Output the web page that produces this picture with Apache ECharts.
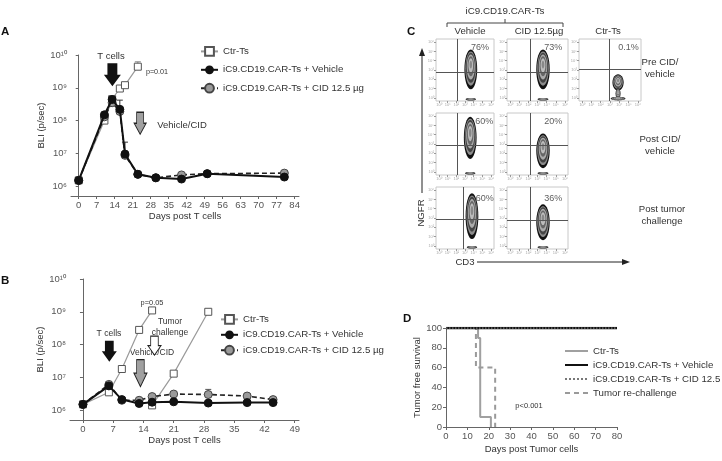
<!DOCTYPE html>
<html>
<head>
<meta charset="utf-8">
<script src="https://cdn.jsdelivr.net/npm/echarts@6/dist/echarts.min.js"></script>
<style>
  html, body { margin: 0; padding: 0; background: #fff; }
  #main { width: 722px; height: 461px; }
</style>
</head>
<body>
<div id="main"></div>
<script>
// ---- panel A : BLI after T cells ----
var ctrDaysA = [0, 10, 13, 16, 18, 23];
var ctrA = [1.5e6, 1.0e8, 4.5e8, 9.5e8, 1.2e9, 4.4e9];
var daysA = [0, 10, 13, 16, 18, 23, 30, 40, 50, 80];
var vehA = [1.5e6, 1.5e8, 4.4e8, 2.2e8, 9.5e6, 2.3e6, 1.8e6, 1.65e6, 2.4e6, 1.9e6];
var cidA = [1.5e6, 1.3e8, 3.5e8, 1.9e8, 8.7e6, 2.3e6, 1.8e6, 2.2e6, 2.4e6, 2.5e6];
var errA = [[23, 4.4e9, 6.2e9, 'ctr'], [16, 2.2e8, 4.2e8, 'veh'], [18, 9.5e6, 2.2e7, 'veh']];

// ---- panel B : BLI with tumor re-challenge ----
var ctrDaysB1 = [0, 6, 9, 13, 16];
var ctrB1 = [1.5e6, 3.5e6, 1.8e7, 2.8e8, 1.1e9];
var ctrDaysB2 = [16, 21, 29];
var ctrB2 = [1.4e6, 1.3e7, 1.0e9];
var daysB = [0, 6, 9, 13, 16, 21, 29, 38, 44];
var vehB = [1.5e6, 5.5e6, 2.1e6, 1.6e6, 1.75e6, 1.8e6, 1.65e6, 1.7e6, 1.7e6];
var cidB = [1.5e6, 6.1e6, 2.0e6, 2.0e6, 2.6e6, 3.1e6, 3.0e6, 2.7e6, 2.1e6];
var errB = [[6, 5.5e6, 7.5e6, 'veh'], [29, 3.0e6, 4.3e6, 'cid'], [29, 1.0e9, 1.2e9, 'ctr']];

var bliTicks = [6, 7, 8, 9, 10];
var bliTickText = ['10\u2076', '10\u2077', '10\u2078', '10\u2079', '10\u00b9\u2070'];
var daysTicksA = [0, 7, 14, 21, 28, 35, 42, 49, 56, 63, 70, 77, 84];
var daysTicksB = [0, 7, 14, 21, 28, 35, 42, 49];

// ---- panel D : tumor free survival (step points) ----
var survCtr = [[0, 100], [15, 90], [16, 10], [21, 0]];
var survRe = [[0, 100], [14, 60], [23, 0]];
var survVeh = [[0, 100], [80, 100]];
var survCid = [[0, 100], [80, 100]];

// ---- panel C : flow plots (NGFR vs CD3) ----
var flowPct = ['76%', '73%', '0.1%', '60%', '20%', '60%', '36%'];
var flowGateX = [37, 38, 49, 37, 38, 47, 38];
var flowGateY = [47, 47, 51, 47.5, 47.5, 48, 46];
// populations: [cd3 centre, ngfr centre, half spread cd3, half spread ngfr]
var flowPops = [
  [[60, 51, 11, 32], [60, 3, 9, 2]],
  [[59, 51, 11, 32], [59, 3, 9, 2]],
  [[63, 30, 9, 13], [63, 12, 4, 9], [63, 4, 12, 3]],
  [[59, 60, 11, 34], [59, 3, 9, 2]],
  [[59, 39, 11, 28], [59, 3, 9, 2]],
  [[62, 53, 11, 37], [62, 3, 9, 2]],
  [[59, 43, 11, 29], [59, 3, 9, 2]]
];

var FONT = '"Liberation Sans", Arial, sans-serif';
var lg = function (v) { return Math.log10(v); };
var pairs = function (xs, ys) { return xs.map(function (x, i) { return [x, lg(ys[i])]; }); };

var nameCtr = 'Ctr-Ts';
var nameVeh = 'iC9.CD19.CAR-Ts + Vehicle';
var nameCid = 'iC9.CD19.CAR-Ts + CID 12.5 \u00b5g';

var arrowPath = 'path://M2.5,0 L9.5,0 L9.5,10 L12,10 L6,20 L0,10 L2.5,10 Z';

var flowBoxes = [
  [436, 39, 58, 62], [507, 39, 61, 62], [579, 39, 62, 62],
  [436, 113, 58, 62], [507, 113, 61, 62],
  [436, 187, 58, 62], [507, 187, 61, 62]
];
var flowLabelPos = [[76, 86], [76, 86], [80, 86], [83, 86], [76, 86], [84, 82], [76, 82]];

var chart = echarts.init(document.getElementById('main'));

var grids = [
  { left: 71, top: 55, width: 228, height: 141 },
  { left: 70, top: 279, width: 229, height: 141 },
  { left: 446, top: 328, width: 171, height: 99 }
];
flowBoxes.forEach(function (b) {
  grids.push({ left: b[0], top: b[1], width: b[2], height: b[3], show: true, borderColor: '#c8c8c8', borderWidth: 1 });
});

var axisFont = { fontFamily: FONT, fontSize: 9.5, color: '#333' };
var tickFont = { fontFamily: FONT, fontSize: 9.5, color: '#555' };

function bliY(gi) {
  return {
    gridIndex: gi, type: 'value', min: 5.7, max: 10,
    name: 'BLI (p/sec)', nameLocation: 'middle', nameGap: 19, nameTextStyle: axisFont,
    axisLine: { show: true, lineStyle: { color: '#666' } },
    axisTick: { show: true, length: 3, customValues: bliTicks, lineStyle: { color: '#666' } },
    axisLabel: Object.assign({ customValues: bliTicks, margin: 4,
      formatter: function (v) { return bliTickText[bliTicks.indexOf(Math.round(v))]; } }, tickFont),
    splitLine: { show: false }
  };
}
function daysX(gi, max, ticks) {
  return {
    gridIndex: gi, type: 'value', min: -3, max: max,
    name: 'Days post T cells', nameLocation: 'middle', nameGap: 15, nameTextStyle: axisFont,
    axisLine: { show: true, onZero: false, lineStyle: { color: '#666' } },
    axisTick: { show: true, length: 3, customValues: ticks, lineStyle: { color: '#666' } },
    axisLabel: Object.assign({ customValues: ticks, margin: 4 }, tickFont),
    splitLine: { show: false }
  };
}

var xAxes = [daysX(0, 85.7, daysTicksA), daysX(1, 50, daysTicksB), {
  gridIndex: 2, type: 'value', min: 0, max: 80, interval: 10,
  name: 'Days post Tumor cells', nameLocation: 'middle', nameGap: 17, nameTextStyle: axisFont,
  axisLine: { show: true, onZero: false, lineStyle: { color: '#666' } },
  axisTick: { length: 3, lineStyle: { color: '#666' } },
  axisLabel: Object.assign({ margin: 4 }, tickFont),
  splitLine: { show: false }
}];
var yAxes = [bliY(0), bliY(1), {
  gridIndex: 2, type: 'value', min: 0, max: 100, interval: 20,
  name: 'Tumor free survival', nameLocation: 'middle', nameGap: 21, nameTextStyle: axisFont,
  axisLine: { show: true, lineStyle: { color: '#666' } },
  axisTick: { length: 3, lineStyle: { color: '#666' } },
  axisLabel: Object.assign({ margin: 4 }, tickFont),
  splitLine: { show: false }
}];

var flowTicks = [5, 20, 35, 50, 65, 80, 95];
var supDigits = ['\u2070', '\u00b9', '\u00b2', '\u00b3', '\u2074', '\u2075', '\u2076'];
flowBoxes.forEach(function (b, i) {
  var gi = i + 3;
  var tickCfg = { show: true, length: 2, customValues: flowTicks, lineStyle: { color: '#999' } };
  var labCfg = { show: true, customValues: flowTicks, fontSize: 4, color: '#aaa', margin: 2,
    formatter: function (v) { return '10' + supDigits[flowTicks.indexOf(v)]; } };
  xAxes.push({ gridIndex: gi, type: 'value', min: 0, max: 100, axisLine: { show: false },
    axisTick: tickCfg, axisLabel: labCfg, splitLine: { show: false } });
  yAxes.push({ gridIndex: gi, type: 'value', min: 0, max: 100, axisLine: { show: false },
    axisTick: tickCfg, axisLabel: labCfg, splitLine: { show: false } });
});

var ctrStyle = {
  type: 'line', name: nameCtr, symbol: 'rect', symbolSize: 7,
  lineStyle: { color: '#9a9a9a', width: 1.2 },
  itemStyle: { color: '#fff', borderColor: '#555', borderWidth: 1 }, z: 2
};
var vehStyle = {
  type: 'line', name: nameVeh, symbol: 'circle', symbolSize: 8,
  lineStyle: { color: '#111', width: 2 },
  itemStyle: { color: '#111', borderColor: '#111' }, z: 4
};
var cidStyle = {
  type: 'line', name: nameCid, symbol: 'circle', symbolSize: 8,
  lineStyle: { color: '#222', width: 1.6, type: [5, 3] },
  itemStyle: { color: '#9a9a9a', borderColor: '#444', borderWidth: 1 }, z: 3
};
function withData(base, extra) { return Object.assign({}, base, extra); }

var errColor = { ctr: '#888', veh: '#333', cid: '#555' };
function errSeries(gi, rows) {
  return {
    type: 'custom', xAxisIndex: gi, yAxisIndex: gi, z: 1, silent: true,
    data: rows.map(function (r) { return [r[0], lg(r[1]), lg(r[2])]; }),
    renderItem: function (params, api) {
      var p0 = api.coord([api.value(0), api.value(1)]);
      var p1 = api.coord([api.value(0), api.value(2)]);
      var col = errColor[rows[params.dataIndex][3]];
      return { type: 'group', children: [
        { type: 'line', shape: { x1: p0[0], y1: p0[1], x2: p1[0], y2: p1[1] }, style: { stroke: col, lineWidth: 1 } },
        { type: 'line', shape: { x1: p1[0] - 3, y1: p1[1], x2: p1[0] + 3, y2: p1[1] }, style: { stroke: col, lineWidth: 1 } }
      ] };
    }
  };
}
function arrowMark(items) {
  return {
    silent: true, label: { show: false }, animation: false,
    data: items.map(function (a) {
      return { coord: [a[0], a[1]], symbol: arrowPath, symbolSize: [a[2], a[3]],
        itemStyle: { color: a[4], borderColor: '#222', borderWidth: a[4] === '#111' ? 0 : 1 } };
    })
  };
}

var series = [
  errSeries(0, errA),
  withData(ctrStyle, { xAxisIndex: 0, yAxisIndex: 0, data: pairs(ctrDaysA, ctrA) }),
  withData(cidStyle, { xAxisIndex: 0, yAxisIndex: 0, data: pairs(daysA, cidA) }),
  withData(vehStyle, { xAxisIndex: 0, yAxisIndex: 0, data: pairs(daysA, vehA),
    markPoint: arrowMark([[13.1, 9.40, 17, 23, '#111'], [23.9, 7.92, 12, 22, '#a0a0a0']]) }),
  errSeries(1, errB),
  withData(ctrStyle, { xAxisIndex: 1, yAxisIndex: 1, data: pairs(ctrDaysB1, ctrB1) }),
  withData(ctrStyle, { xAxisIndex: 1, yAxisIndex: 1, data: pairs(ctrDaysB2, ctrB2) }),
  withData(cidStyle, { xAxisIndex: 1, yAxisIndex: 1, data: pairs(daysB, cidB) }),
  withData(vehStyle, { xAxisIndex: 1, yAxisIndex: 1, data: pairs(daysB, vehB),
    markPoint: arrowMark([[6.1, 7.8, 15, 21, '#111'], [16.55, 7.97, 13, 19, '#fff'], [13.3, 7.13, 13, 27, '#a0a0a0']]) }),
  // panel D
  { type: 'line', name: 'Ctr-Ts ', xAxisIndex: 2, yAxisIndex: 2, step: 'end', symbol: 'none',
    lineStyle: { color: '#a0a0a0', width: 2 }, itemStyle: { color: '#a0a0a0' }, data: survCtr, z: 2 },
  { type: 'line', name: 'Tumor re-challenge', xAxisIndex: 2, yAxisIndex: 2, step: 'end', symbol: 'none',
    lineStyle: { color: '#9a9a9a', width: 2, type: [5, 4] }, itemStyle: { color: '#9a9a9a' }, data: survRe, z: 2 },
  { type: 'line', name: 'iC9.CD19.CAR-Ts + Vehicle ', xAxisIndex: 2, yAxisIndex: 2, step: 'end', symbol: 'none',
    lineStyle: { color: '#111', width: 2.5 }, itemStyle: { color: '#111' }, data: survVeh, z: 3 },
  { type: 'line', name: 'iC9.CD19.CAR-Ts + CID 12.5', xAxisIndex: 2, yAxisIndex: 2, step: 'end', symbol: 'none',
    lineStyle: { color: '#777', width: 1.5, type: 'dotted' }, itemStyle: { color: '#777' }, data: survCid, z: 4 }
];

var shades = ['#111', '#8c8c8c', '#444', '#ababab', '#666', '#bdbdbd', '#888'];
var scales = [1, 0.86, 0.76, 0.63, 0.5, 0.36, 0.2];
flowPops.forEach(function (pops, i) {
  var gi = i + 3;
  series.push({
    type: 'custom', xAxisIndex: gi, yAxisIndex: gi, silent: true, clip: true,
    data: pops,
    renderItem: function (params, api) {
      var c = api.coord([api.value(0), api.value(1)]);
      var s = api.size([api.value(2), api.value(3)]);
      return { type: 'group', children: shades.map(function (col, k) {
        return { type: 'ellipse', shape: { cx: c[0], cy: c[1] - s[1] * 0.04 * k, rx: s[0] * scales[k], ry: s[1] * scales[k] },
          style: { fill: col } };
      }) };
    },
    markLine: {
      silent: true, symbol: 'none', animation: false, label: { show: false },
      lineStyle: { color: '#555', width: 1, type: 'solid' },
      data: [{ xAxis: flowGateX[i] }, { yAxis: flowGateY[i] }]
    },
    z: 1
  });
  series.push({
    type: 'scatter', xAxisIndex: gi, yAxisIndex: gi, symbolSize: 0, silent: true,
    data: [flowLabelPos[i]],
    label: { show: true, position: 'inside', formatter: flowPct[i], fontFamily: FONT, fontSize: 9, color: '#333' },
    z: 10
  });
});

function txt(x, y, s, size, extra) {
  return Object.assign({ type: 'text', x: x, y: y,
    style: { text: s, fontFamily: FONT, fontSize: size, fill: '#333', align: 'center', verticalAlign: 'middle' } }, extra || {});
}
function panelLabel(x, y, s) {
  return { type: 'text', x: x, y: y, style: { text: s, fontFamily: FONT, fontSize: 11.5, fontWeight: 'bold', fill: '#111', align: 'left', verticalAlign: 'middle' } };
}

var graphics = [
  panelLabel(1, 32, 'A'), panelLabel(1, 281, 'B'), panelLabel(407, 32, 'C'), panelLabel(403, 319, 'D'),
  txt(111, 56, 'T cells', 9.5),
  txt(157, 72, 'p=0.01', 7.2),
  txt(182, 125, 'Vehicle/CID', 9.5),
  txt(152, 303, 'p=0.05', 7.4),
  txt(109, 334, 'T cells', 8.6),
  txt(170, 322, 'Tumor', 8.5),
  txt(170, 333, 'challenge', 8.5),
  txt(152, 353, 'Vehicle/CID', 8.5),
  txt(529, 406, 'p<0.001', 7.5),
  // panel C headers
  txt(505, 11, 'iC9.CD19.CAR-Ts', 9.8),
  { type: 'polyline', shape: { points: [[447, 27], [447, 23], [563, 23], [563, 27]] }, style: { stroke: '#444', lineWidth: 1, fill: null } },
  { type: 'line', shape: { x1: 505, y1: 23, x2: 505, y2: 19 }, style: { stroke: '#444', lineWidth: 1 } },
  txt(470, 31, 'Vehicle', 9.6),
  txt(539, 31, 'CID 12.5\u00b5g', 9.6),
  txt(608, 31, 'Ctr-Ts', 9.6),
  txt(660, 62, 'Pre CID/', 9.6), txt(660, 74, 'vehicle', 9.6),
  txt(660, 139, 'Post CID/', 9.6), txt(660, 151, 'vehicle', 9.6),
  txt(662, 209, 'Post tumor', 9.6), txt(662, 221, 'challenge', 9.6),
  // axes arrows of panel C
  { type: 'line', shape: { x1: 422, y1: 193, x2: 422, y2: 54 }, style: { stroke: '#222', lineWidth: 1 } },
  { type: 'polygon', shape: { points: [[422, 48], [419, 56], [425, 56]] }, style: { fill: '#222' } },
  txt(421, 213, 'NGFR', 9.6, { rotation: Math.PI / 2 }),
  txt(465, 262, 'CD3', 9.6),
  { type: 'line', shape: { x1: 477, y1: 262, x2: 624, y2: 262 }, style: { stroke: '#222', lineWidth: 1 } },
  { type: 'polygon', shape: { points: [[630, 262], [622, 259], [622, 265]] }, style: { fill: '#222' } }
];

var legendText = { fontFamily: FONT, fontSize: 9.7, color: '#333' };
chart.setOption({
  animation: false,
  textStyle: { fontFamily: FONT },
  grid: grids,
  xAxis: xAxes,
  yAxis: yAxes,
  legend: [
    { orient: 'vertical', left: 200, top: 46, padding: 0, itemWidth: 17, itemHeight: 11, itemGap: 8, textStyle: legendText,
      data: [nameCtr, nameVeh, nameCid], selectedMode: false },
    { orient: 'vertical', left: 220, top: 314, padding: 0, itemWidth: 17, itemHeight: 11, itemGap: 5, textStyle: legendText,
      data: [nameCtr, nameVeh, nameCid], selectedMode: false },
    { orient: 'vertical', left: 564, top: 346, padding: 0, itemWidth: 23, itemHeight: 10, itemGap: 4, textStyle: legendText,
      itemStyle: { opacity: 0 },
      data: ['Ctr-Ts ', 'iC9.CD19.CAR-Ts + Vehicle ', 'iC9.CD19.CAR-Ts + CID 12.5', 'Tumor re-challenge'],
      formatter: function (n) { return n.trim(); }, selectedMode: false }
  ],
  series: series,
  graphic: graphics
});
</script>
</body>
</html>
